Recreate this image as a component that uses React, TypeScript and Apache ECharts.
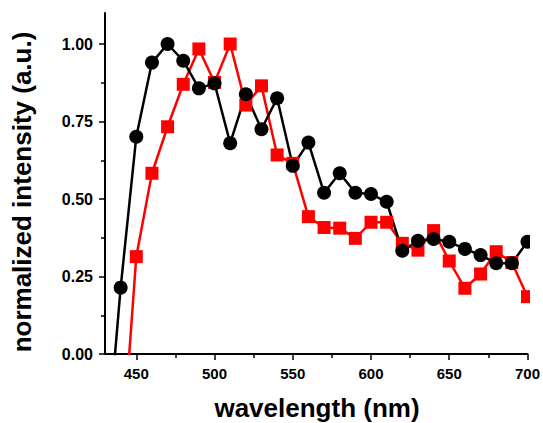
import React, { useEffect, useRef } from "react";
import * as echarts from "echarts";

const blackWavelengths = [430, 440, 450, 460, 470, 480, 490, 500, 510, 520, 530, 540, 550, 560, 570, 580, 590, 600, 610, 620, 630, 640, 650, 660, 670, 680, 690, 700];
const blackValues = [-0.38, 0.214, 0.701, 0.94, 1.0, 0.946, 0.857, 0.873, 0.68, 0.838, 0.725, 0.825, 0.607, 0.682, 0.52, 0.583, 0.52, 0.516, 0.491, 0.333, 0.365, 0.371, 0.362, 0.339, 0.319, 0.293, 0.293, 0.362];

const redWavelengths = [440, 450, 460, 470, 480, 490, 500, 510, 520, 530, 540, 550, 560, 570, 580, 590, 600, 610, 620, 630, 640, 650, 660, 670, 680, 690, 700];
const redValues = [-0.38, 0.314, 0.583, 0.733, 0.87, 0.984, 0.876, 1.0, 0.803, 0.865, 0.642, 0.615, 0.443, 0.408, 0.406, 0.373, 0.425, 0.425, 0.357, 0.335, 0.398, 0.3, 0.212, 0.258, 0.33, 0.295, 0.185];

const xMajorTicks = [450, 500, 550, 600, 650, 700];
const xMinorTicks = [475, 525, 575, 625, 675];
const yMajorTicks = [0, 0.25, 0.5, 0.75, 1.0];
const yMinorTicks = [0.125, 0.375, 0.625, 0.875];

const FONT = "'Liberation Sans', Arial, Helvetica, sans-serif";

export default function App() {
  const ref = useRef<HTMLDivElement>(null);
  useEffect(() => {
    if (!ref.current) return;
    const chart = echarts.init(ref.current, null, { renderer: "svg" });
    const grid = { left: 105, right: 14, top: 13, bottom: 69 };
    const xBase = { type: "value", min: 430, max: 700, splitLine: { show: false } };
    const yBase = { type: "value", min: 0, max: 1.1, splitLine: { show: false } };
    chart.setOption({
      animation: false,
      backgroundColor: "#ffffff",
      grid,
      xAxis: [
        {
          ...xBase,
          axisLine: { show: true, lineStyle: { color: "#000", width: 2 } },
          axisTick: { show: true, length: 6, customValues: xMajorTicks, lineStyle: { color: "#000", width: 1.5 } },
          axisLabel: {
            customValues: xMajorTicks,
            margin: 12,
            color: "#000",
            fontFamily: FONT,
            fontWeight: "bold",
            fontSize: 15,
          },
        },
        {
          ...xBase,
          position: "bottom",
          axisLine: { show: false },
          axisTick: { show: true, length: 4, customValues: xMinorTicks, lineStyle: { color: "#000", width: 1.5 } },
          axisLabel: { show: false },
        },
      ],
      yAxis: [
        {
          ...yBase,
          axisLine: { show: true, lineStyle: { color: "#000", width: 2 } },
          axisTick: { show: true, length: 6, customValues: yMajorTicks, lineStyle: { color: "#000", width: 1.5 } },
          axisLabel: {
            customValues: yMajorTicks,
            margin: 12,
            color: "#000",
            fontFamily: FONT,
            fontWeight: "bold",
            fontSize: 16,
            formatter: (v: number) => v.toFixed(2),
          },
        },
        {
          ...yBase,
          position: "left",
          axisLine: { show: false },
          axisTick: { show: true, length: 4, customValues: yMinorTicks, lineStyle: { color: "#000", width: 1.5 } },
          axisLabel: { show: false },
        },
      ],
      graphic: [
        {
          type: "rect",
          z: 100,
          shape: { x: 530, y: 0, width: 13, height: 353 },
          style: { fill: "#ffffff" },
        },
        {
          type: "text",
          x: 317,
          y: 408,
          style: {
            text: "wavelength (nm)",
            fontFamily: FONT,
            fontWeight: "bold",
            fontSize: 26,
            fill: "#000",
            align: "center",
            verticalAlign: "middle",
          },
        },
        {
          type: "text",
          x: 22,
          y: 192,
          rotation: Math.PI / 2,
          style: {
            text: "normalized intensity (a.u.)",
            fontFamily: FONT,
            fontWeight: "bold",
            fontSize: 26,
            fill: "#000",
            align: "center",
            verticalAlign: "middle",
          },
        },
      ],
      series: [
        {
          type: "line",
          xAxisIndex: 0,
          yAxisIndex: 0,
          clip: true,
          data: redWavelengths.map((w, i) => [w, redValues[i]]),
          symbol: "rect",
          symbolSize: 13,
          showAllSymbol: true,
          lineStyle: { color: "#ff0000", width: 2.5 },
          itemStyle: { color: "#ff0000" },
        },
        {
          type: "line",
          xAxisIndex: 0,
          yAxisIndex: 0,
          clip: true,
          data: blackWavelengths.map((w, i) => [w, blackValues[i]]),
          symbol: "circle",
          symbolSize: 14,
          showAllSymbol: true,
          lineStyle: { color: "#000000", width: 2.5 },
          itemStyle: { color: "#000000" },
        },
      ],
    });
    return () => chart.dispose();
  }, []);
  return <div ref={ref} style={{ width: 543, height: 423, position: "absolute", left: 0, top: 0 }} />;
}
